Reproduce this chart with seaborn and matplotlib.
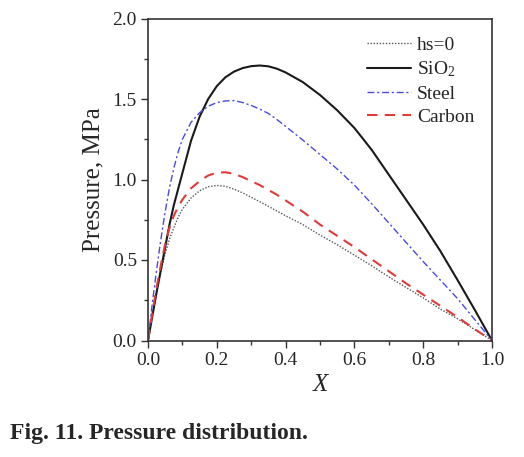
import numpy as np
import pandas as pd
import matplotlib
matplotlib.use("Agg")
import matplotlib.pyplot as plt
from matplotlib.ticker import MultipleLocator, FormatStrFormatter
import seaborn as sns

# values
x = [0, 0.0125, 0.025, 0.0375, 0.05, 0.0625, 0.075, 0.0875, 0.1, 0.125, 0.15, 0.175,
     0.2, 0.225, 0.25, 0.275, 0.3, 0.325, 0.35, 0.375, 0.4, 0.45,
     0.5, 0.55, 0.6, 0.65, 0.7, 0.75, 0.8, 0.85, 0.9, 0.95, 1.0]
hs0 = [0, 0.155, 0.30, 0.43, 0.54, 0.63, 0.70, 0.765, 0.815, 0.885, 0.93, 0.955,
       0.963, 0.958, 0.94, 0.917, 0.89, 0.862, 0.833, 0.804, 0.775, 0.72,
       0.655, 0.595, 0.53, 0.465, 0.395, 0.33, 0.265, 0.195, 0.135, 0.068, 0]
sio2 = [0, 0.15, 0.30, 0.44, 0.58, 0.72, 0.84, 0.94, 1.04, 1.24, 1.39, 1.50,
        1.58, 1.635, 1.67, 1.692, 1.704, 1.708, 1.703, 1.688, 1.665, 1.605,
        1.525, 1.43, 1.32, 1.185, 1.03, 0.875, 0.72, 0.555, 0.375, 0.19, 0]
steel = [0, 0.23, 0.44, 0.63, 0.80, 0.95, 1.07, 1.17, 1.25, 1.355, 1.415, 1.455,
         1.478, 1.488, 1.49, 1.478, 1.46, 1.437, 1.41, 1.372, 1.33, 1.245,
         1.155, 1.065, 0.965, 0.85, 0.73, 0.61, 0.49, 0.375, 0.26, 0.13, 0]
carbon = [0, 0.17, 0.33, 0.47, 0.60, 0.70, 0.775, 0.83, 0.875, 0.945, 0.99, 1.025,
          1.042, 1.045, 1.035, 1.015, 0.99, 0.965, 0.935, 0.905, 0.87, 0.80,
          0.72, 0.65, 0.58, 0.505, 0.43, 0.355, 0.285, 0.215, 0.145, 0.07, 0]
labels = ["hs=0", "SiO$_\\mathregular{2}$", "Steel", "Carbon"]

sns.set_style("ticks")
plt.rcParams["font.family"] = ["Liberation Serif", "DejaVu Serif"]
plt.rcParams["mathtext.fontset"] = "custom"
plt.rcParams["mathtext.rm"] = "Liberation Serif"
plt.rcParams["mathtext.it"] = "Liberation Serif:italic"

fig = plt.figure(figsize=(5.24, 4.57), dpi=100)
ax = fig.add_axes([148 / 524, 1 - 340.5 / 457, 344 / 524, 322 / 457])

styles = [
    dict(color="#555555", lw=1.0, dashes=(1, 1.2)),
    dict(color="#1a1a1a", lw=1.5, dashes=()),
    dict(color="#4a4ae0", lw=1.0, dashes=(5, 2, 1.5, 2)),
    dict(color="#e03a3a", lw=1.5, dashes=(5, 3.5)),
]
for ys, lab, st in zip([hs0, sio2, steel, carbon], labels, styles):
    df = pd.DataFrame({"x": x, "p": ys})
    sns.lineplot(data=df, x="x", y="p", ax=ax, color=st["color"],
                 lw=st["lw"], label=lab)
    if st["dashes"]:
        ax.lines[-1].set_dashes(st["dashes"])

ax.set_xlim(0, 1.0)
ax.set_ylim(0, 2.0)
ax.xaxis.set_major_locator(MultipleLocator(0.2))
ax.xaxis.set_minor_locator(MultipleLocator(0.1))
ax.yaxis.set_major_locator(MultipleLocator(0.5))
ax.yaxis.set_minor_locator(MultipleLocator(0.25))
ax.xaxis.set_major_formatter(FormatStrFormatter("%.1f"))
ax.yaxis.set_major_formatter(FormatStrFormatter("%.1f"))
ax.tick_params(which="major", direction="out", length=5, width=1.0,
               labelsize=14, color="#333333", pad=3)
ax.tick_params(which="minor", direction="out", length=3, width=1.0, color="#333333")
for s in ax.spines.values():
    s.set_linewidth(1.2)
    s.set_color("#333333")

ax.set_xlabel("X", fontsize=18, fontstyle="italic", labelpad=4)
ax.set_ylabel("Pressure, MPa", fontsize=18, labelpad=6)

leg = ax.legend(loc="upper right", frameon=False, fontsize=14, handlelength=2.3,
                labelspacing=0.3, handletextpad=0.3)
for h, st in zip(leg.get_lines(), styles):
    if st["dashes"]:
        h.set_dashes(st["dashes"])

# caption under the plot
fig.text(10 / 524, 1 - 433 / 457, "Fig. 11. Pressure distribution.", fontsize=17,
         fontweight="bold", va="center", ha="left")

fig.savefig("out.png", dpi=100)
